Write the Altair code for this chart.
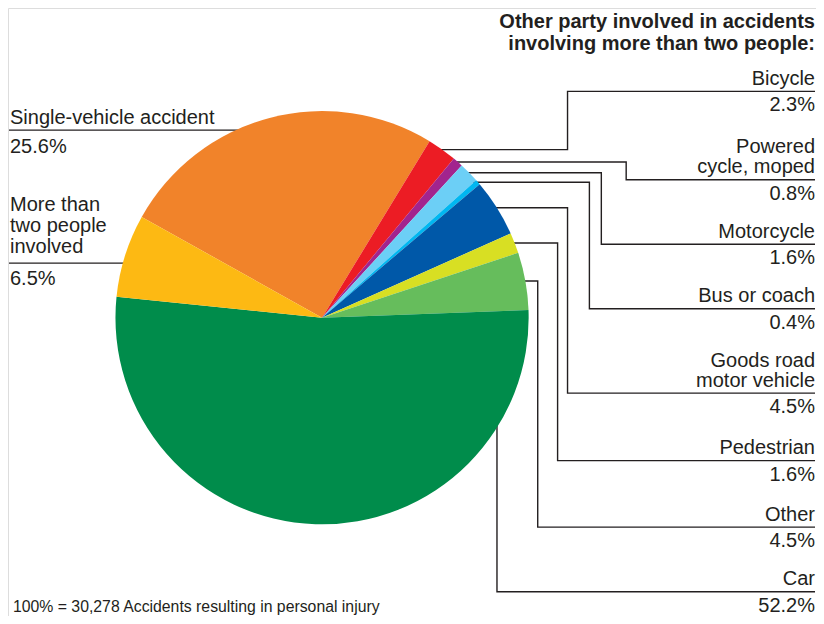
import math
import altair as alt
import pandas as pd

# ---------------- data ----------------
categories = [
    "Single-vehicle accident", "Bicycle", "Powered cycle, moped", "Motorcycle",
    "Bus or coach", "Goods road motor vehicle", "Pedestrian", "Other", "Car",
    "More than two people involved",
]
shares = [25.6, 2.3, 0.8, 1.6, 0.4, 4.5, 1.6, 4.5, 52.2, 6.5]
label_lines = [
    ["Single-vehicle accident"], ["Bicycle"], ["Powered", "cycle, moped"],
    ["Motorcycle"], ["Bus or coach"], ["Goods road", "motor vehicle"],
    ["Pedestrian"], ["Other"], ["Car"], ["More than", "two people", "involved"],
]
colors = ["#F1832A", "#EC1C24", "#A2248E", "#6CCFF6", "#00B7F1", "#0058A8",
          "#D8DF23", "#66BD5C", "#008C4B", "#FDB913"]
title_lines = ["Other party involved in accidents", "involving more than two people:"]
footnote = "100% = 30,278 Accidents resulting in personal injury"

# ---------------- layout (reference pixel coordinates) ----------------
W, H = 808, 608
XD = [10, 823]
YD = [9, 621.5]
KX = W / (XD[1] - XD[0])
KY = H / (YD[1] - YD[0])

CX, CY, R = 326, 321, 208
START_DEG = 299.2
RIGHT_X = 822
LEFT_LINE_X, LEFT_TEXT_X = 11, 12
side = ["left", "right", "right", "right", "right", "right", "right", "right", "right", "left"]
rule_y = [132, 93, 182, 247, 312, 397, 465, 532, 597, 266]
elbow_x = [None, 573, 632, 607, 595, 573, 563, 543, 502, None]
name_gap = [6, 6.5, 6.5, 6.5, 6.5, 6.5, 6.5, 6.5, 6.5, 10]
value_gap = [23, 20, 20, 20, 20, 20, 20, 20, 20, 22]
LINE_STEP = [21, 20, 20, 20, 20, 20, 20, 20, 20, 21]
TEXT_COLOR = "#231F20"
FONT = "Liberation Sans"

# ---------------- derived geometry ----------------
df_pie = pd.DataFrame({"category": categories, "share": shares,
                       "idx": list(range(len(categories)))})

line_rows = []
cum = 0.0
for i, (cat, v) in enumerate(zip(categories, shares)):
    a0 = START_DEG + cum * 3.6
    a1 = a0 + v * 3.6
    cum += v
    mid = math.radians((a0 + a1) / 2)
    if side[i] == "left":
        y = rule_y[i]
        ex = CX - math.sqrt(R ** 2 - (y - CY) ** 2) + 5
        pts = [(LEFT_LINE_X, y), (ex, y)]
    elif cat == "Car":
        x = elbow_x[i]
        ey = CY + math.sqrt(R ** 2 - (x - CX) ** 2) - 5
        pts = [(x, ey), (x, rule_y[i]), (RIGHT_X, rule_y[i])]
    else:
        ey = CY - R * math.cos(mid)
        ex = CX + R * math.sin(mid) - 5
        pts = [(ex, ey), (elbow_x[i], ey), (elbow_x[i], rule_y[i]), (RIGHT_X, rule_y[i])]
    for k, (px, py) in enumerate(pts):
        line_rows.append({"key": cat, "seq": k, "px": px, "py": py})
df_lines = pd.DataFrame(line_rows)

right_text, left_text = [], []
for i, cat in enumerate(categories):
    lines = label_lines[i]
    n = len(lines)
    tgt = right_text if side[i] == "right" else left_text
    tx = RIGHT_X if side[i] == "right" else LEFT_TEXT_X
    for k, t in enumerate(lines):
        tgt.append({"t": t, "tx": tx,
                    "ty": rule_y[i] - name_gap[i] - LINE_STEP[i] * (n - 1 - k)})
    tgt.append({"t": f"{shares[i]:.1f}%", "tx": tx, "ty": rule_y[i] + value_gap[i]})
df_right = pd.DataFrame(right_text)
df_left = pd.DataFrame(left_text)
df_title = pd.DataFrame({"t": title_lines, "tx": [RIGHT_X, RIGHT_X], "ty": [29, 51]})
df_foot = pd.DataFrame({"t": [footnote], "tx": [15], "ty": [617]})

xs = alt.Scale(domain=XD, nice=False, zero=False)
ys = alt.Scale(domain=YD, nice=False, zero=False, reverse=True)

lines = alt.Chart(df_lines).mark_line(color=TEXT_COLOR, strokeWidth=1.4).encode(
    x=alt.X("px:Q", scale=xs, axis=None),
    y=alt.Y("py:Q", scale=ys, axis=None),
    detail="key:N",
    order="seq:Q",
)

start = math.radians(START_DEG)
pie = alt.Chart(df_pie).mark_arc(radius=R * (KX + KY) / 2).encode(
    theta=alt.Theta("share:Q", stack=True,
                    scale=alt.Scale(range=[start, start + 2 * math.pi])),
    color=alt.Color("category:N", scale=alt.Scale(domain=categories, range=colors),
                    legend=None),
    order=alt.Order("idx:Q"),
    x=alt.value((CX - XD[0]) * KX),
    y=alt.value((CY - YD[0]) * KY),
)


def text_layer(df, align, size, weight="normal"):
    return alt.Chart(df).mark_text(
        align=align, baseline="alphabetic", font=FONT, fontSize=size,
        fontWeight=weight, color=TEXT_COLOR,
    ).encode(
        x=alt.X("tx:Q", scale=xs, axis=None),
        y=alt.Y("ty:Q", scale=ys, axis=None),
        text="t:N",
    )


chart = alt.layer(
    lines,
    pie,
    text_layer(df_right, "right", 20),
    text_layer(df_left, "left", 20),
    text_layer(df_title, "right", 20, "bold"),
    text_layer(df_foot, "left", 15.8),
).properties(
    width=W, height=H, autosize="none", padding=0,
).configure_view(strokeWidth=0, stroke="transparent").configure(background="white")

chart.save("out.html", embed_options={"renderer": "svg", "actions": False})
